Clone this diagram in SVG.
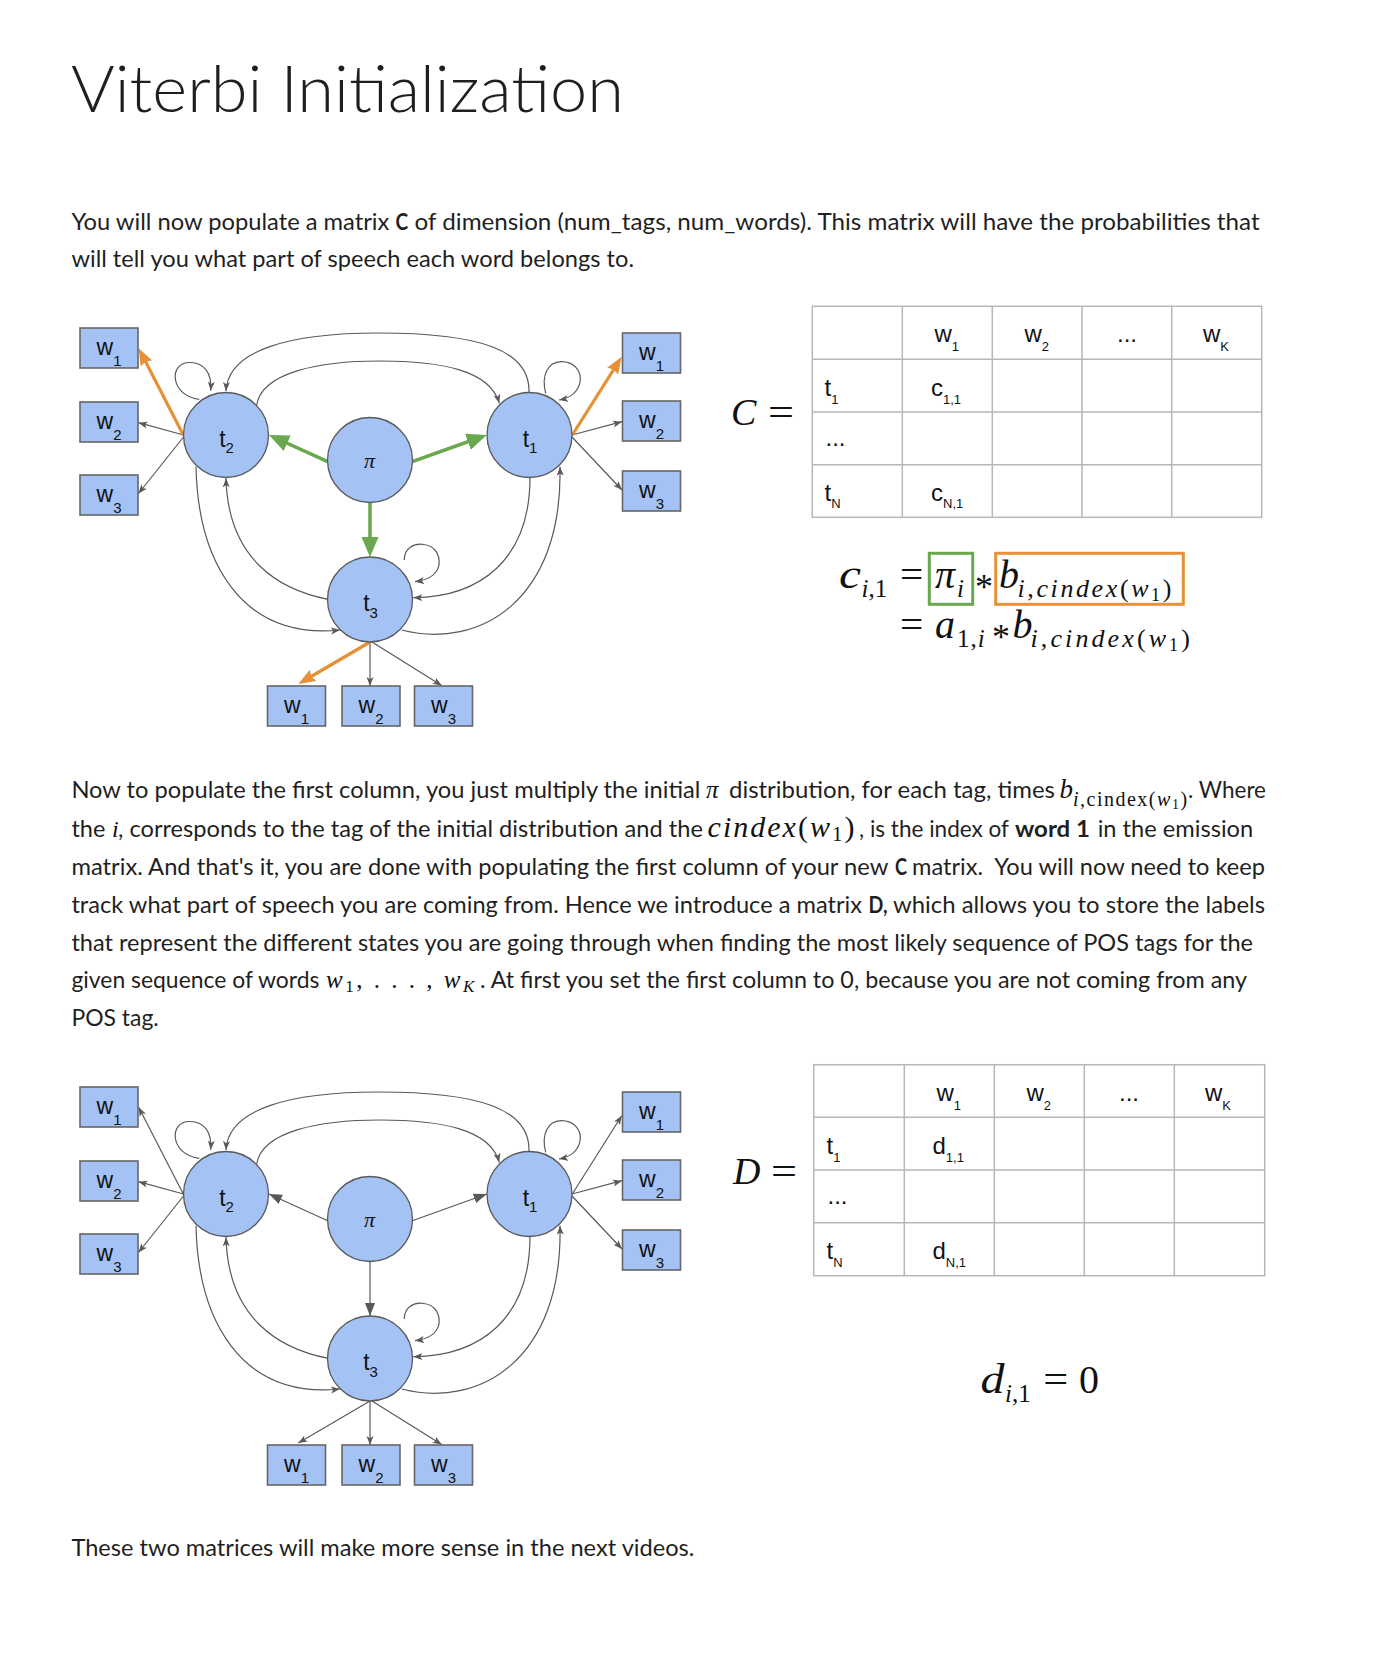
<svg xmlns="http://www.w3.org/2000/svg" width="1378" height="1671" viewBox="0 0 1378 1671">
  <style>
    .tag { fill:#a4c2f4; stroke:#595959; stroke-width:1.3 }
    .word { fill:#a4c2f4; stroke:#666; stroke-width:1.6 }
    .nl { font-family:"Liberation Sans", Arial, sans-serif; font-size:23px; fill:#111 }
    .pi { font-family:"Liberation Serif", serif; font-style:italic; font-size:22px; fill:#111 }
    .e { fill:none; stroke:#595959; stroke-width:1.2; marker-end:url(#ah) }
    .em { fill:none; stroke:#595959; stroke-width:1.2; marker-end:url(#ahm) }
    .eo { fill:none; stroke:#e69138; stroke-width:3.2; marker-end:url(#aho) }
    .eg { fill:none; stroke:#6aa84f; stroke-width:3.5; marker-end:url(#ahg) }
    .grid { fill:none; stroke:#b7b7b7; stroke-width:1.5 }
    .tt { font-family:"Liberation Sans", Arial, sans-serif; font-size:24px; fill:#111 }
    .body { font-family:Lato, "Liberation Sans", sans-serif; font-size:23.5px; fill:#1f1f1f }
    .b { font-weight:700 }
    .m { font-family:"Liberation Serif", "DejaVu Serif", serif; font-style:italic; fill:#111 }
    .r { font-style:normal }
  </style>
  <defs>
    <marker id="ah" markerUnits="userSpaceOnUse" markerWidth="10" markerHeight="8" refX="9" refY="4" orient="auto">
      <path d="M0,0.5 L9,4 L0,7.5 L2.2,4 z" fill="#595959"/>
    </marker>
    <marker id="ahm" markerUnits="userSpaceOnUse" markerWidth="14" markerHeight="11" refX="13" refY="5.5" orient="auto">
      <path d="M0,0.5 L13,5.5 L0,10.5 z" fill="#595959"/>
    </marker>
    <marker id="aho" markerUnits="userSpaceOnUse" markerWidth="18" markerHeight="14" refX="11" refY="7" orient="auto">
      <path d="M0,0.5 L17,7 L0,13.5 L2,7 z" fill="#e69138"/>
    </marker>
    <marker id="ahg" markerUnits="userSpaceOnUse" markerWidth="21" markerHeight="18" refX="14" refY="9" orient="auto">
      <path d="M0,0.5 L20,9 L0,17.5 z" fill="#6aa84f"/>
    </marker>
  </defs>

  <rect width="1378" height="1671" fill="#fff"/>

  <!-- heading and first paragraph -->
  <text x="71" y="112" font-family="Lato, 'Liberation Sans', sans-serif" font-weight="300" font-size="65" fill="#1f1f1f" textLength="553" lengthAdjust="spacingAndGlyphs">Viterbi Initialization</text>

  <text class="body" x="71.4" y="230" textLength="318" lengthAdjust="spacingAndGlyphs">You will now populate a matrix</text>
  <text class="body b" x="395.4" y="230" textLength="12.6" lengthAdjust="spacingAndGlyphs">C</text>
  <text class="body" x="414.6" y="230" textLength="845" lengthAdjust="spacingAndGlyphs">of dimension (num_tags, num_words). This matrix will have the probabilities that</text>
  <text class="body" x="71.4" y="267" textLength="562.6" lengthAdjust="spacingAndGlyphs">will tell you what part of speech each word belongs to.</text>

  <!-- ===== HMM graph, C matrix case ===== -->
  <g id="graph-c">
    <g id="c-edges">
      <path class="e" d="M183.5,435 L138.5,422.7"/>
      <path class="e" d="M183.5,437 L138.5,493.5"/>
      <path class="e" d="M572,435 L622,421.7"/>
      <path class="e" d="M572,437 L622,490"/>
      <path class="e" d="M370,642 L370,686"/>
      <path class="e" d="M372,642 L441.7,685.5"/>
      <path class="e" d="M199.3,399.3 C170,396 168,362 190,362.5 C204,363 212,372 210.7,390.7"/>
      <path class="e" d="M545.7,393.3 C541,375 548,362 561,361.7 C574,361.5 582,371 580,382 C578,392 570,398 559,400"/>
      <path class="e" d="M404.3,560 C404,548 414,543 424,544.5 C436,546 440,556 439,565 C437,575 428,580 415,581.7"/>
      <path class="e" d="M529,392 C530,350 480,333 378,333 C290,333 228,350 226,391"/>
      <path class="e" d="M256.7,405 C262,372 320,361 380,361 C440,361 490,370 499.3,403.3"/>
      <path class="e" d="M328.3,599.3 C280,590 228,560 226,478.3"/>
      <path class="e" d="M196,466.7 C198,560 240,640 340,630"/>
      <path class="e" d="M530,477.3 C530,560 480,597 413.3,597.7"/>
      <path class="e" d="M401.7,630 C480,650 563,600 560,466.7"/>
      <path class="eo" d="M183.3,435 L141.4,353.6"/>
      <path class="eo" d="M572.3,435 L618.5,361.8"/>
      <path class="eo" d="M370,642 L303.5,681"/>
      <path class="eg" d="M327.7,461.7 L274.5,437.5"/>
      <path class="eg" d="M412.3,461.7 L481.1,437"/>
      <path class="eg" d="M370,502.5 L370,551"/>
    </g>
    <g id="c-t2"><circle class="tag" cx="226" cy="435" r="42.5"/><text class="nl" x="226.5" y="446.7" text-anchor="middle">t<tspan font-size="15" dy="6.6">2</tspan></text></g>
    <g id="c-pi"><circle class="tag" cx="370" cy="460" r="42.5"/><text class="pi" x="369.5" y="468" text-anchor="middle">π</text></g>
    <g id="c-t1"><circle class="tag" cx="529.5" cy="435" r="42.5"/><text class="nl" x="530" y="446.7" text-anchor="middle">t<tspan font-size="15" dy="6.6">1</tspan></text></g>
    <g id="c-t3"><circle class="tag" cx="370" cy="599.5" r="42.5"/><text class="nl" x="370.5" y="611.2" text-anchor="middle">t<tspan font-size="15" dy="6.6">3</tspan></text></g>
    <g id="c-lw1"><rect class="word" x="80" y="328" width="58" height="40"/><text class="nl" x="109" y="355" text-anchor="middle">w<tspan font-size="15" dy="11">1</tspan></text></g>
    <g id="c-lw2"><rect class="word" x="80" y="402" width="58" height="40"/><text class="nl" x="109" y="429" text-anchor="middle">w<tspan font-size="15" dy="11">2</tspan></text></g>
    <g id="c-lw3"><rect class="word" x="80" y="475" width="58" height="40"/><text class="nl" x="109" y="502" text-anchor="middle">w<tspan font-size="15" dy="11">3</tspan></text></g>
    <g id="c-rw1"><rect class="word" x="622.5" y="333" width="58" height="40"/><text class="nl" x="651.5" y="360" text-anchor="middle">w<tspan font-size="15" dy="11">1</tspan></text></g>
    <g id="c-rw2"><rect class="word" x="622.5" y="401" width="58" height="40"/><text class="nl" x="651.5" y="428" text-anchor="middle">w<tspan font-size="15" dy="11">2</tspan></text></g>
    <g id="c-rw3"><rect class="word" x="622.5" y="471" width="58" height="40"/><text class="nl" x="651.5" y="498" text-anchor="middle">w<tspan font-size="15" dy="11">3</tspan></text></g>
    <g id="c-bw1"><rect class="word" x="267.5" y="686" width="58" height="40"/><text class="nl" x="296.5" y="713" text-anchor="middle">w<tspan font-size="15" dy="11">1</tspan></text></g>
    <g id="c-bw2"><rect class="word" x="342" y="686" width="58" height="40"/><text class="nl" x="371" y="713" text-anchor="middle">w<tspan font-size="15" dy="11">2</tspan></text></g>
    <g id="c-bw3"><rect class="word" x="414.5" y="686" width="58" height="40"/><text class="nl" x="443.5" y="713" text-anchor="middle">w<tspan font-size="15" dy="11">3</tspan></text></g>
  </g>

  <!-- C matrix -->
  <text class="m" x="731" y="425" font-size="38">C</text>
  <text class="m r" x="768" y="425" font-size="38" textLength="26" lengthAdjust="spacingAndGlyphs">=</text>
  <g id="matrix-c">
    <rect class="grid" x="812.3" y="306.3" width="449.4" height="211"/>
    <path class="grid" d="M902.3,306.3 V517.3 M992.3,306.3 V517.3 M1082,306.3 V517.3 M1171.7,306.3 V517.3 M812.3,359.3 H1261.7 M812.3,412 H1261.7 M812.3,464.7 H1261.7"/>
    <text class="tt" x="934.5" y="342">w<tspan font-size="13" dy="9">1</tspan></text>
    <text class="tt" x="1024.5" y="342">w<tspan font-size="13" dy="9">2</tspan></text>
    <text class="tt" x="1117" y="342">...</text>
    <text class="tt" x="1203" y="342">w<tspan font-size="13" dy="9">K</tspan></text>
    <text class="tt" x="824.5" y="396">t<tspan font-size="13" dy="7.5">1</tspan></text>
    <text class="tt" x="931" y="396">c<tspan font-size="13" dy="7.5">1,1</tspan></text>
    <text class="tt" x="825.5" y="445.5">...</text>
    <text class="tt" x="824.5" y="500.7">t<tspan font-size="13" dy="7.6">N</tspan></text>
    <text class="tt" x="931" y="500.7">c<tspan font-size="13" dy="7.6">N,1</tspan></text>
  </g>

  <!-- c_{i,1} equation -->
  <g id="eq-c">
    <text class="m" x="839" y="588" font-size="42" textLength="22" lengthAdjust="spacingAndGlyphs">c</text>
    <text class="m" x="861.5" y="597" font-size="25">i<tspan class="r">,1</tspan></text>
    <text class="m r" x="900" y="588" font-size="40" textLength="23.3" lengthAdjust="spacingAndGlyphs">=</text>
    <rect x="929.3" y="553.3" width="43.4" height="51" fill="none" stroke="#6aa84f" stroke-width="3"/>
    <text class="m" x="935" y="588" font-size="40">π</text>
    <text class="m" x="957" y="597" font-size="25">i</text>
    <text class="m r" x="975" y="599" font-size="36">*</text>
    <rect x="995.7" y="553.3" width="187.6" height="51" fill="none" stroke="#e69138" stroke-width="3"/>
    <text class="m" x="999" y="588" font-size="40">b</text>
    <text class="m" x="1017.5" y="597" font-size="26" letter-spacing="2.6">i<tspan class="r">,</tspan>cindex<tspan class="r">(</tspan>w<tspan class="r" font-size="18" dy="4">1</tspan><tspan class="r" dy="-4">)</tspan></text>
    <text class="m r" x="900" y="638" font-size="40" textLength="23.3" lengthAdjust="spacingAndGlyphs">=</text>
    <text class="m" x="935" y="638" font-size="40">a</text>
    <text class="m" x="957" y="647" font-size="25" letter-spacing="1"><tspan class="r">1,</tspan>i</text>
    <text class="m r" x="992" y="649" font-size="36">*</text>
    <text class="m" x="1012.5" y="638" font-size="40">b</text>
    <text class="m" x="1030.5" y="647" font-size="26" letter-spacing="3.1">i<tspan class="r">,</tspan>cindex<tspan class="r">(</tspan>w<tspan class="r" font-size="18" dy="4">1</tspan><tspan class="r" dy="-4">)</tspan></text>
  </g>

  <!-- second paragraph -->
  <text class="body" x="71.4" y="798" textLength="629" lengthAdjust="spacingAndGlyphs">Now to populate the first column, you just multiply the initial</text>
  <text class="m" x="706" y="798" font-size="25">π</text>
  <text class="body" x="729" y="798" textLength="326" lengthAdjust="spacingAndGlyphs">distribution, for each tag, times</text>
  <text class="m" x="1059.5" y="798" font-size="27">b</text>
  <text class="m" x="1073" y="806" font-size="20" letter-spacing="1.5">i<tspan class="r">,cindex(</tspan>w<tspan class="r" font-size="14" dy="3">1</tspan><tspan class="r" dy="-3">)</tspan></text>
  <text class="body" x="1188" y="798" textLength="78" lengthAdjust="spacingAndGlyphs">. Where</text>

  <text class="body" x="71.4" y="836.6" textLength="34" lengthAdjust="spacingAndGlyphs">the</text>
  <text class="m" x="112" y="836.6" font-size="24">i</text>
  <text class="body" x="118" y="836.6" textLength="585" lengthAdjust="spacingAndGlyphs">, corresponds to the tag of the initial distribution and the</text>
  <text class="m" x="707.6" y="836.6" font-size="30" letter-spacing="2">cindex<tspan class="r">(</tspan>w<tspan class="r" font-size="21" dy="4">1</tspan><tspan class="r" dy="-4">)</tspan></text>
  <text class="body" x="859" y="836.6" textLength="150" lengthAdjust="spacingAndGlyphs">, is the index of</text>
  <text class="body b" x="1015" y="836.6" textLength="75" lengthAdjust="spacingAndGlyphs">word 1</text>
  <text class="body" x="1097.7" y="836.6" textLength="155.5" lengthAdjust="spacingAndGlyphs">in the emission</text>

  <text class="body" x="71.4" y="875" textLength="817" lengthAdjust="spacingAndGlyphs">matrix. And that's it, you are done with populating the first column of your new</text>
  <text class="body b" x="895" y="875" textLength="12" lengthAdjust="spacingAndGlyphs">C</text>
  <text class="body" x="912" y="875" textLength="353" lengthAdjust="spacingAndGlyphs">matrix.&#160; You will now need to keep</text>

  <text class="body" x="71.4" y="913" textLength="790.6" lengthAdjust="spacingAndGlyphs">track what part of speech you are coming from. Hence we introduce a matrix</text>
  <text class="body b" x="868.5" y="913" textLength="19" lengthAdjust="spacingAndGlyphs">D,</text>
  <text class="body" x="893" y="913" textLength="372" lengthAdjust="spacingAndGlyphs">which allows you to store the labels</text>

  <text class="body" x="71.4" y="950.6" textLength="1181.6" lengthAdjust="spacingAndGlyphs">that represent the different states you are going through when finding the most likely sequence of POS tags for the</text>

  <text class="body" x="71.4" y="988" textLength="248" lengthAdjust="spacingAndGlyphs">given sequence of words</text>
  <text class="m" x="326" y="988" font-size="25" letter-spacing="2.5">w<tspan class="r" font-size="17" dy="4">1</tspan><tspan class="r" dy="-4">, . . . ,</tspan> w<tspan font-size="17" dy="4">K</tspan></text>
  <text class="body" x="480" y="988" textLength="767" lengthAdjust="spacingAndGlyphs">. At first you set the first column to 0, because you are not coming from any</text>

  <text class="body" x="71.4" y="1026" textLength="87.4" lengthAdjust="spacingAndGlyphs">POS tag.</text>

  <!-- ===== HMM graph, D matrix case ===== -->
  <g id="graph-d" transform="translate(0,759)">
    <g id="d-edges">
      <path class="e" d="M183.5,435 L138.5,422.7"/>
      <path class="e" d="M183.5,437 L138.5,493.5"/>
      <path class="e" d="M572,435 L622,421.7"/>
      <path class="e" d="M572,437 L622,490"/>
      <path class="e" d="M370,642 L370,686"/>
      <path class="e" d="M372,642 L441.7,685.5"/>
      <path class="e" d="M199.3,399.3 C170,396 168,362 190,362.5 C204,363 212,372 210.7,390.7"/>
      <path class="e" d="M545.7,393.3 C541,375 548,362 561,361.7 C574,361.5 582,371 580,382 C578,392 570,398 559,400"/>
      <path class="e" d="M404.3,560 C404,548 414,543 424,544.5 C436,546 440,556 439,565 C437,575 428,580 415,581.7"/>
      <path class="e" d="M529,392 C530,350 480,333 378,333 C290,333 228,350 226,391"/>
      <path class="e" d="M256.7,405 C262,372 320,361 380,361 C440,361 490,370 499.3,403.3"/>
      <path class="e" d="M328.3,599.3 C280,590 228,560 226,478.3"/>
      <path class="e" d="M196,466.7 C198,560 240,640 340,630"/>
      <path class="e" d="M530,477.3 C530,560 480,597 413.3,597.7"/>
      <path class="e" d="M401.7,630 C480,650 563,600 560,466.7"/>
      <path class="e" d="M183.3,435 L138.7,348.3"/>
      <path class="e" d="M572.3,435 L621.7,356.7"/>
      <path class="e" d="M370,642 L298.3,684"/>
      <path class="em" d="M327.7,461.7 L269,435"/>
      <path class="em" d="M412.3,461.7 L486.7,435"/>
      <path class="em" d="M370,502.5 L370,557"/>
    </g>
    <g id="d-t2"><circle class="tag" cx="226" cy="435" r="42.5"/><text class="nl" x="226.5" y="446.7" text-anchor="middle">t<tspan font-size="15" dy="6.6">2</tspan></text></g>
    <g id="d-pi"><circle class="tag" cx="370" cy="460" r="42.5"/><text class="pi" x="369.5" y="468" text-anchor="middle">π</text></g>
    <g id="d-t1"><circle class="tag" cx="529.5" cy="435" r="42.5"/><text class="nl" x="530" y="446.7" text-anchor="middle">t<tspan font-size="15" dy="6.6">1</tspan></text></g>
    <g id="d-t3"><circle class="tag" cx="370" cy="599.5" r="42.5"/><text class="nl" x="370.5" y="611.2" text-anchor="middle">t<tspan font-size="15" dy="6.6">3</tspan></text></g>
    <g id="d-lw1"><rect class="word" x="80" y="328" width="58" height="40"/><text class="nl" x="109" y="355" text-anchor="middle">w<tspan font-size="15" dy="11">1</tspan></text></g>
    <g id="d-lw2"><rect class="word" x="80" y="402" width="58" height="40"/><text class="nl" x="109" y="429" text-anchor="middle">w<tspan font-size="15" dy="11">2</tspan></text></g>
    <g id="d-lw3"><rect class="word" x="80" y="475" width="58" height="40"/><text class="nl" x="109" y="502" text-anchor="middle">w<tspan font-size="15" dy="11">3</tspan></text></g>
    <g id="d-rw1"><rect class="word" x="622.5" y="333" width="58" height="40"/><text class="nl" x="651.5" y="360" text-anchor="middle">w<tspan font-size="15" dy="11">1</tspan></text></g>
    <g id="d-rw2"><rect class="word" x="622.5" y="401" width="58" height="40"/><text class="nl" x="651.5" y="428" text-anchor="middle">w<tspan font-size="15" dy="11">2</tspan></text></g>
    <g id="d-rw3"><rect class="word" x="622.5" y="471" width="58" height="40"/><text class="nl" x="651.5" y="498" text-anchor="middle">w<tspan font-size="15" dy="11">3</tspan></text></g>
    <g id="d-bw1"><rect class="word" x="267.5" y="686" width="58" height="40"/><text class="nl" x="296.5" y="713" text-anchor="middle">w<tspan font-size="15" dy="11">1</tspan></text></g>
    <g id="d-bw2"><rect class="word" x="342" y="686" width="58" height="40"/><text class="nl" x="371" y="713" text-anchor="middle">w<tspan font-size="15" dy="11">2</tspan></text></g>
    <g id="d-bw3"><rect class="word" x="414.5" y="686" width="58" height="40"/><text class="nl" x="443.5" y="713" text-anchor="middle">w<tspan font-size="15" dy="11">3</tspan></text></g>
  </g>

  <!-- D matrix -->
  <text class="m" x="733" y="1183.5" font-size="38">D</text>
  <text class="m r" x="771" y="1183.5" font-size="38" textLength="26" lengthAdjust="spacingAndGlyphs">=</text>
  <g id="matrix-d">
    <rect class="grid" x="813.7" y="1064.7" width="451" height="211"/>
    <path class="grid" d="M904.3,1064.7 V1275.7 M994.3,1064.7 V1275.7 M1084.3,1064.7 V1275.7 M1174.3,1064.7 V1275.7 M813.7,1117.3 H1264.7 M813.7,1170 H1264.7 M813.7,1222.7 H1264.7"/>
    <text class="tt" x="936.5" y="1100.5">w<tspan font-size="13" dy="9">1</tspan></text>
    <text class="tt" x="1026.5" y="1100.5">w<tspan font-size="13" dy="9">2</tspan></text>
    <text class="tt" x="1119" y="1100.5">...</text>
    <text class="tt" x="1205" y="1100.5">w<tspan font-size="13" dy="9">K</tspan></text>
    <text class="tt" x="826.5" y="1154.4">t<tspan font-size="13" dy="7.4">1</tspan></text>
    <text class="tt" x="932.5" y="1153.5">d<tspan font-size="13" dy="8.2">1,1</tspan></text>
    <text class="tt" x="827.5" y="1204">...</text>
    <text class="tt" x="826.5" y="1259.1">t<tspan font-size="13" dy="7.6">N</tspan></text>
    <text class="tt" x="932.5" y="1258.5">d<tspan font-size="13" dy="8.2">N,1</tspan></text>
  </g>

  <!-- d_{i,1} = 0 -->
  <g id="eq-d">
    <text class="m" x="980.5" y="1393" font-size="42" textLength="24" lengthAdjust="spacingAndGlyphs">d</text>
    <text class="m" x="1005" y="1402" font-size="25">i<tspan class="r">,1</tspan></text>
    <text class="m r" x="1043.3" y="1393" font-size="40" textLength="25" lengthAdjust="spacingAndGlyphs">=</text>
    <text class="m r" x="1079" y="1393" font-size="40">0</text>
  </g>

  <text class="body" x="71.4" y="1556" textLength="623" lengthAdjust="spacingAndGlyphs">These two matrices will make more sense in the next videos.</text>
</svg>
